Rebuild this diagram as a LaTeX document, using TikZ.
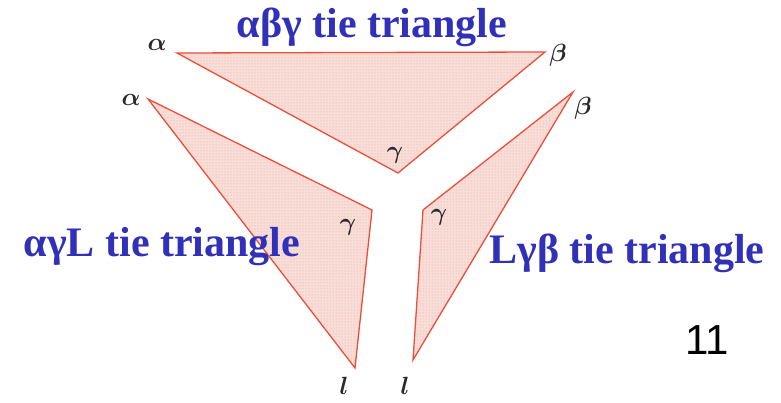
\documentclass[tikz,border=0pt]{standalone}
\usepackage{fontspec}
\setmainfont{Liberation Serif}
\setsansfont{Liberation Sans}
\usepackage{xcolor}
\usepackage{tikz}
\usetikzlibrary{patterns}
\definecolor{TieRed}{HTML}{E8503A}
\definecolor{TiePink}{HTML}{F8DED8}
\definecolor{TitleBlue}{HTML}{3030B8}
\definecolor{Ink}{HTML}{2A2A2A}

\begin{document}
\begin{tikzpicture}[x=1pt,y=-1pt,
  tie/.style={draw=TieRed,preaction={fill=TiePink},pattern=dots,pattern color=TieRed!55,line width=1.3pt,line join=miter},
  phase/.style={text=Ink,font=\fontsize{25}{25}\selectfont\boldmath,inner sep=0pt},
  title/.style={text=TitleBlue,font=\fontsize{42}{42}\selectfont\bfseries,inner sep=0pt}
]
\useasboundingbox (0,0) rectangle (781,403);

% corners of the three tie triangles
\coordinate (ta) at (177,53);
\coordinate (tb) at (545,52);
\coordinate (tg) at (398,173);
\coordinate (la) at (148,99);
\coordinate (lg) at (372,210);
\coordinate (ll) at (355,368);
\coordinate (rb) at (573,92);
\coordinate (rg) at (423,210);
\coordinate (rl) at (413,360);

\draw[tie] (ta) -- (tb) -- (tg) -- cycle;
\draw[tie] (la) -- (lg) -- (ll) -- cycle;
\draw[tie] (rb) -- (rg) -- (rl) -- cycle;

% phase labels
\node[phase] (pta) at (157,45) {$\alpha$};
\node[phase] (ptb) at (558,55) {$\beta$};
\node[phase] (ptg) at (395,155) {$\gamma$};
\node[phase] (pla) at (131,100) {$\alpha$};
\node[phase] (plg) at (348,227) {$\gamma$};
\node[phase] (pll) at (344,386) {$l$};
\node[phase] (prb) at (583,108) {$\beta$};
\node[phase] (prg) at (439,217) {$\gamma$};
\node[phase] (prl) at (405,386) {$l$};

\node[title] (ttop) at (372,27) {αβγ tie triangle};
\node[title] (tleft) at (162,247) {αγL tie triangle};
\node[title] (tright) at (627,253) {Lγβ tie triangle};

\node[font=\sffamily\fontsize{42}{42}\selectfont,inner sep=0pt] (page) at (707,340) {11};
\end{tikzpicture}
\end{document}
